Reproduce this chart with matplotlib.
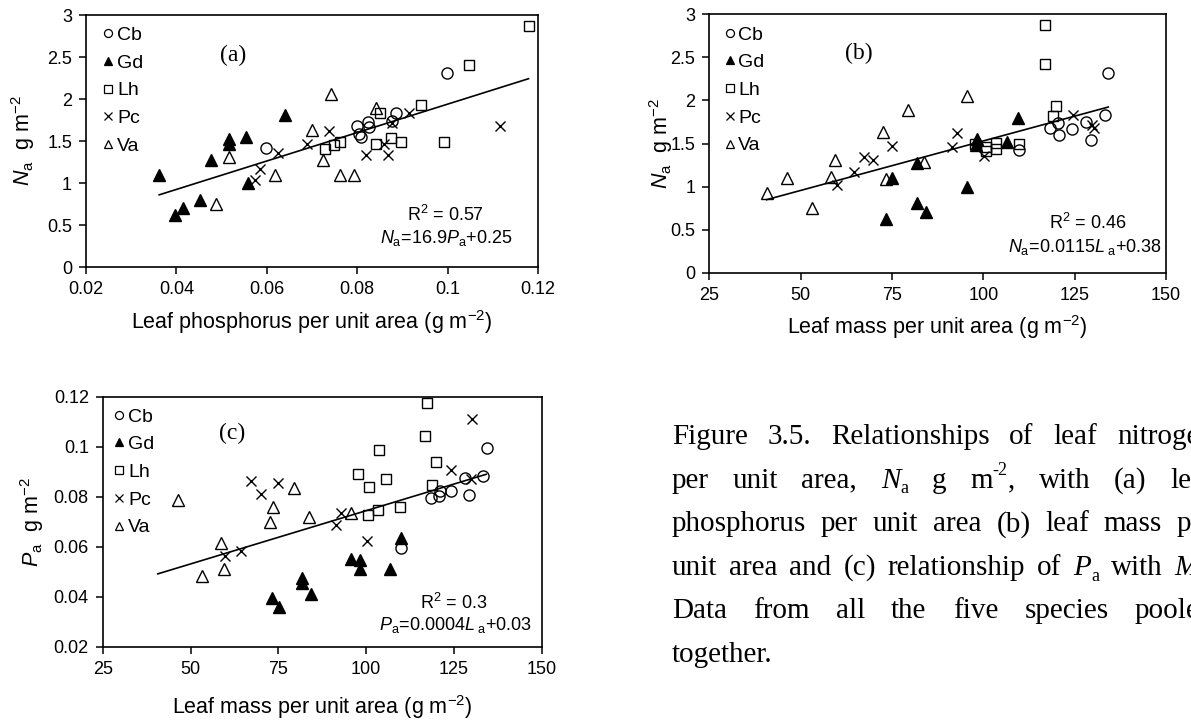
import matplotlib
matplotlib.use("Agg")
import matplotlib.pyplot as plt
import numpy as np
from matplotlib.lines import Line2D
from matplotlib.ticker import FuncFormatter, MultipleLocator

plt.rcParams["font.family"] = ["Liberation Sans", "DejaVu Sans"]
plt.rcParams["mathtext.fontset"] = "custom"
plt.rcParams["mathtext.rm"] = "Liberation Sans"
plt.rcParams["mathtext.it"] = "Liberation Sans:italic"
plt.rcParams["mathtext.bf"] = "Liberation Sans:bold"

# ---------------------------------------------------------------- data
species = ["Cb", "Gd", "Lh", "Pc", "Va"]

# (a) leaf phosphorus per area (Pa) vs leaf nitrogen per area (Na)
a_Pa = {
    "Cb": [0.0599, 0.0999, 0.0885, 0.0878, 0.0824, 0.0826, 0.0800, 0.0805, 0.0808],
    "Gd": [0.0362, 0.0398, 0.0415, 0.0452, 0.0477, 0.0516, 0.0516, 0.0553, 0.0558, 0.0641],
    "Lh": [0.1179, 0.1048, 0.0942, 0.0851, 0.0728, 0.0749, 0.0762, 0.0842, 0.0874, 0.0896, 0.0991],
    "Pc": [0.0573, 0.0586, 0.0625, 0.0688, 0.0738, 0.0820, 0.0868, 0.0859, 0.0877, 0.0914, 0.1115],
    "Va": [0.0487, 0.0516, 0.0619, 0.0742, 0.0701, 0.0725, 0.0763, 0.0794, 0.0842],
}
a_Na = {
    "Cb": [1.42, 2.31, 1.83, 1.74, 1.73, 1.67, 1.68, 1.59, 1.55],
    "Gd": [1.10, 0.62, 0.71, 0.80, 1.27, 1.52, 1.47, 1.55, 1.00, 1.81],
    "Lh": [2.87, 2.41, 1.93, 1.83, 1.41, 1.45, 1.49, 1.47, 1.54, 1.49, 1.49],
    "Pc": [1.04, 1.17, 1.36, 1.47, 1.62, 1.33, 1.34, 1.47, 1.71, 1.83, 1.68],
    "Va": [0.75, 1.31, 1.10, 2.06, 1.63, 1.28, 1.10, 1.10, 1.89],
}

# (b) leaf mass per area (La) vs Na
b_La = {
    "Cb": [134.2, 133.3, 128.0, 124.2, 120.8, 118.3, 120.4, 129.5, 109.9],
    "Gd": [73.3, 75.0, 81.8, 81.8, 84.2, 95.6, 98.2, 97.9, 106.6, 109.6],
    "Lh": [117.0, 117.0, 119.9, 119.0, 97.6, 100.8, 100.8, 103.5, 103.5, 109.8],
    "Pc": [59.9, 64.5, 67.3, 69.9, 75.0, 91.3, 92.9, 100.3, 124.5, 129.8, 130.2],
    "Va": [40.7, 46.3, 53.0, 58.4, 59.5, 72.5, 73.5, 79.4, 83.9, 95.6],
}
b_Na = {
    "Cb": [2.32, 1.83, 1.75, 1.67, 1.60, 1.68, 1.74, 1.54, 1.43],
    "Gd": [0.62, 1.10, 1.27, 0.81, 0.71, 1.00, 1.55, 1.48, 1.52, 1.80],
    "Lh": [2.87, 2.42, 1.93, 1.82, 1.49, 1.46, 1.41, 1.51, 1.44, 1.50],
    "Pc": [1.02, 1.17, 1.34, 1.31, 1.47, 1.46, 1.62, 1.36, 1.83, 1.71, 1.68],
    "Va": [0.93, 1.10, 0.75, 1.11, 1.31, 1.63, 1.09, 1.89, 1.28, 2.05],
}

# (c) La vs Pa
c_La = {
    "Cb": [134.3, 133.2, 128.2, 124.1, 120.7, 118.6, 121.0, 129.4, 110.0],
    "Gd": [73.3, 75.2, 81.8, 81.8, 84.4, 95.7, 98.3, 98.3, 106.8, 110.0],
    "Lh": [117.2, 116.9, 103.6, 119.9, 97.7, 105.7, 100.7, 118.7, 109.7, 103.3, 100.5],
    "Pc": [67.3, 70.1, 74.9, 59.8, 64.5, 130.1, 124.1, 91.3, 92.9, 100.2, 130.0],
    "Va": [46.5, 53.2, 58.6, 59.5, 72.6, 73.6, 79.6, 83.8, 95.7],
}
c_Pa = {
    "Cb": [0.0996, 0.0883, 0.0874, 0.0824, 0.0803, 0.0796, 0.0824, 0.0807, 0.0596],
    "Gd": [0.0394, 0.0358, 0.0474, 0.0454, 0.0411, 0.0550, 0.0547, 0.0510, 0.0510, 0.0636],
    "Lh": [0.1174, 0.1043, 0.0987, 0.0938, 0.0890, 0.0871, 0.0838, 0.0847, 0.0760, 0.0747, 0.0727],
    "Pc": [0.0863, 0.0811, 0.0854, 0.0564, 0.0583, 0.1110, 0.0907, 0.0687, 0.0734, 0.0624, 0.0870],
    "Va": [0.0787, 0.0483, 0.0614, 0.0511, 0.0698, 0.0758, 0.0835, 0.0720, 0.0736],
}

# linear trendlines (slope, intercept) and their printed labels
fit_a = (16.9, 0.25)
fit_b = (0.0115, 0.38)
fit_c = (0.000426, 0.0318)
r2_a, r2_b, r2_c = "0.57", "0.46", "0.3"
eq_a = r"$N_\mathrm{a}$=16.9$P_\mathrm{a}$+0.25"
eq_b = r"$N_\mathrm{a}$=0.0115$L_\mathrm{\ a}$+0.38"
eq_c = r"$P_\mathrm{a}$=0.0004$L_\mathrm{\ a}$+0.03"

# caption, one list per printed line; each word is a list of (text, kind)
caption = [
    [[("Figure", "n")], [("3.5.", "n")], [("Relationships", "n")], [("of", "n")],
     [("leaf", "n")], [("nitrogen", "n")]],
    [[("per", "n")], [("unit", "n")], [("area,", "n")], [("N", "i"), ("a", "sub")],
     [("g", "n")], [("m", "n"), ("-2", "sup"), (",", "n")], [("with", "n")],
     [("(a)", "n")], [("leaf", "n")]],
    [[("phosphorus", "n")], [("per", "n")], [("unit", "n")], [("area", "n")],
     [("(b)", "n")], [("leaf", "n")], [("mass", "n")], [("per", "n")]],
    [[("unit", "n")], [("area", "n")], [("and", "n")], [("(c)", "n")],
     [("relationship", "n")], [("of", "n")], [("P", "i"), ("a", "sub")],
     [("with", "n")], [("M", "i"), ("a", "sub"), (".", "n")]],
    [[("Data", "n")], [("from", "n")], [("all", "n")], [("the", "n")], [("five", "n")],
     [("species", "n")], [("pooled", "n")]],
    [[("together.", "n")]],
]

# ---------------------------------------------------------------- layout
W, H = 1191, 722
fig = plt.figure(figsize=(W / 100, H / 100), dpi=100)
fig.patch.set_facecolor("white")


def fx(x):
    return x / W


def fy(y):
    return 1 - y / H


def axes_px(left, top, right, bottom):
    return fig.add_axes([fx(left), fy(bottom), (right - left) / W, (bottom - top) / H])


STYLE = {
    "Cb": dict(marker="o", markerfacecolor="none", markersize=8),
    "Gd": dict(marker="^", markerfacecolor="black", markersize=8),
    "Lh": dict(marker="s", markerfacecolor="none", markersize=7.2),
    "Pc": dict(marker="x", markersize=7.5),
    "Va": dict(marker="^", markerfacecolor="none", markersize=8),
}

fmt = FuncFormatter(lambda v, p: ("%.2f" % v).rstrip("0").rstrip("."))


def setup(ax, xlim, ylim, xstep, ystep):
    ax.set_xlim(*xlim)
    ax.set_ylim(*ylim)
    ax.xaxis.set_major_locator(MultipleLocator(xstep))
    ax.yaxis.set_major_locator(MultipleLocator(ystep))
    ax.xaxis.set_major_formatter(fmt)
    ax.yaxis.set_major_formatter(fmt)
    ax.tick_params(direction="out", length=5, width=1.1, labelsize=13, pad=5,
                   top=False, right=False, colors="black")
    for s in ax.spines.values():
        s.set_linewidth(1.2)
        s.set_color("black")


def scatter(ax, xs, ys):
    for sp in species:
        ax.plot(xs[sp], ys[sp], linestyle="none", color="black",
                markeredgecolor="black", markeredgewidth=1.0, clip_on=False,
                **STYLE[sp])


def trend(ax, fit, xmin, xmax):
    xx = np.array([xmin, xmax])
    ax.plot(xx, fit[0] * xx + fit[1], color="black", linewidth=1.2, zorder=1)


def legend(ax, anchor):
    handles = []
    for sp in species:
        st = dict(STYLE[sp])
        st["markersize"] = st["markersize"] * 0.72
        handles.append(Line2D([], [], linestyle="none", color="black",
                              markeredgecolor="black", markeredgewidth=0.9, **st))
    ax.legend(handles, species, loc="upper left", bbox_to_anchor=anchor,
              frameon=False, prop=dict(family="Liberation Sans", size=14),
              handlelength=0.4, handletextpad=0.25, labelspacing=0.52,
              borderpad=0, borderaxespad=0)


def all_vals(d):
    return np.concatenate([np.asarray(d[s]) for s in species])


# (a)
ax_a = axes_px(86, 15, 538, 267.3)
setup(ax_a, (0.02, 0.12), (0, 3), 0.02, 0.5)
scatter(ax_a, a_Pa, a_Na)
trend(ax_a, fit_a, all_vals(a_Pa).min(), all_vals(a_Pa).max())
legend(ax_a, (0.041, 0.955))

# (b)
ax_b = axes_px(709.3, 14.3, 1166, 272.7)
setup(ax_b, (25, 150), (0, 3), 25, 0.5)
scatter(ax_b, b_La, b_Na)
trend(ax_b, fit_b, all_vals(b_La).min(), all_vals(b_La).max())
legend(ax_b, (0.036, 0.955))

# (c)
ax_c = axes_px(102.7, 396.7, 541.7, 646.7)
setup(ax_c, (25, 150), (0.02, 0.12), 25, 0.02)
scatter(ax_c, c_La, c_Pa)
trend(ax_c, fit_c, all_vals(b_La).min(), all_vals(b_La).max())
legend(ax_c, (0.029, 0.955))

# ---------------------------------------------------------------- labels
sans = "Liberation Sans"
serif = "Liberation Serif"
LAB = 15.5


def ftext(x, y, s, **kw):
    kw.setdefault("ha", "center")
    kw.setdefault("va", "center")
    kw.setdefault("family", sans)
    return fig.text(fx(x), fy(y), s, **kw)


ftext(23.5, 141, r"$N_\mathrm{a}$  g m$^{-2}$", fontsize=LAB, rotation=90)
ftext(661, 143.5, r"$N_\mathrm{a}$  g m$^{-2}$", fontsize=LAB, rotation=90)
ftext(32, 522, r"$P_\mathrm{a}$  g m$^{-2}$", fontsize=LAB, rotation=90)

ftext(312, 322, r"Leaf phosphorus per unit area (g m$^{-2}$)", fontsize=LAB)
ftext(937.7, 327, r"Leaf mass per unit area (g m$^{-2}$)", fontsize=LAB)
ftext(322, 707, r"Leaf mass per unit area (g m$^{-2}$)", fontsize=LAB)

ftext(233, 55, "(a)", fontsize=17, family=serif)
ftext(859, 53, "(b)", fontsize=17, family=serif)
ftext(232, 433, "(c)", fontsize=17, family=serif)

ftext(445.5, 215, r"R$^2$ = " + r2_a, fontsize=13)
ftext(446, 238, eq_a, fontsize=13)
ftext(1088, 223, r"R$^2$ = " + r2_b, fontsize=13)
ftext(1085, 247, eq_b, fontsize=13)
ftext(453.7, 603, r"R$^2$ = " + r2_c, fontsize=13)
ftext(455.8, 625, eq_c, fontsize=13)

# ---------------------------------------------------------------- caption
renderer = fig.canvas.get_renderer()
CAP = 21
cap_left, cap_right = 671.7, 1214
base0, lead = 444, 43.6
pt2px = 100 / 72


def build_word(word):
    parts = []
    for txt, kind in word:
        size = CAP * 0.62 if kind in ("sub", "sup") else CAP
        t = fig.text(0, 0, txt, fontsize=size, family=serif,
                     fontstyle="italic" if kind == "i" else "normal",
                     ha="left", va="baseline")
        w = t.get_window_extent(renderer).width
        if kind == "sub":
            dy = -0.2 * CAP * pt2px
        elif kind == "sup":
            dy = 0.42 * CAP * pt2px
        else:
            dy = 0.0
        parts.append((t, w, dy))
    return parts


probe = fig.text(0, 0, "a a", fontsize=CAP, family=serif)
probe2 = fig.text(0, 0, "aa", fontsize=CAP, family=serif)
space_w = (probe.get_window_extent(renderer).width
           - probe2.get_window_extent(renderer).width)
probe.remove()
probe2.remove()

for i, line in enumerate(caption):
    words = [build_word(w) for w in line]
    widths = [sum(p[1] for p in w) for w in words]
    if i < len(caption) - 1 and len(words) > 1:
        gap = (cap_right - cap_left - sum(widths)) / (len(words) - 1)
    else:
        gap = space_w
    x = cap_left
    yb = base0 + i * lead
    for w, ww in zip(words, widths):
        for t, pw, dy in w:
            t.set_position((fx(x), fy(yb - dy)))
            x += pw
        x += gap

fig.savefig("out.png", dpi=100, facecolor="white")
